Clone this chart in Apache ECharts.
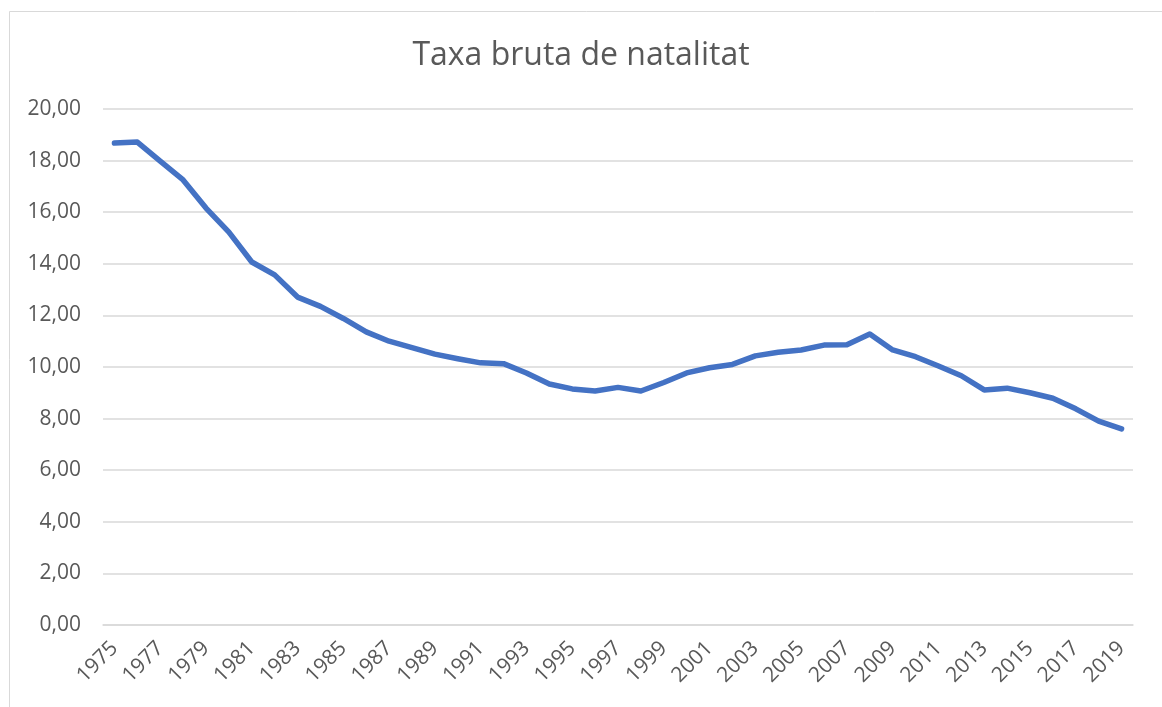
<!DOCTYPE html>
<html>
<head>
<meta charset="utf-8">
<script src="https://cdn.jsdelivr.net/npm/echarts@6/dist/echarts.min.js"></script>
<style>
  html, body { margin: 0; padding: 0; background: #fff; }
  #chart { width: 1162px; height: 707px; }
</style>
</head>
<body>
<div id="chart"></div>
<script>
const years = []
for (let y = 1975; y <= 2019; y++) years.push(String(y))

// taxa bruta de natalitat (per mil habitants), llegida del gràfic
const rates = [
  18.68, 18.72, 17.98, 17.25, 16.16, 15.23, 14.07, 13.57, 12.71, 12.35,
  11.88, 11.36, 11.00, 10.75, 10.50, 10.32, 10.16, 10.13, 9.77, 9.34,
  9.15, 9.07, 9.21, 9.07, 9.40, 9.77, 9.97, 10.10, 10.43, 10.57,
  10.66, 10.85, 10.86, 11.28, 10.66, 10.40, 10.04, 9.66, 9.11, 9.18,
  9.00, 8.79, 8.38, 7.90, 7.60
]

const yTicks = { min: 0, max: 20, interval: 2 }

const chart = echarts.init(document.getElementById('chart'))

const textColor = '#595959'
const font = '"Open Sans", "Liberation Sans", sans-serif'

chart.setOption({
  backgroundColor: '#fff',
  animation: false,
  title: {
    text: 'Taxa bruta de natalitat',
    left: 'center',
    top: 35,
    textStyle: { color: textColor, fontSize: 32, fontWeight: 'normal', fontFamily: font }
  },
  graphic: [{
    type: 'rect',
    shape: { x: 9.5, y: 11.5, width: 2000, height: 2000 },
    style: { fill: 'none', stroke: '#d9d9d9', lineWidth: 1 },
    silent: true
  }],
  grid: { left: 103, right: 29, top: 109, bottom: 82 },
  xAxis: {
    type: 'category',
    data: years,
    boundaryGap: true,
    axisLine: { lineStyle: { color: '#d9d9d9', width: 1.5 } },
    axisTick: { show: false },
    axisLabel: {
      interval: 1,
      rotate: 45,
      margin: 20,
      color: textColor,
      fontSize: 21,
      fontFamily: font
    }
  },
  yAxis: {
    type: 'value',
    min: yTicks.min,
    max: yTicks.max,
    interval: yTicks.interval,
    axisLine: { show: false },
    axisTick: { show: false },
    splitLine: { lineStyle: { color: '#d9d9d9', width: 1.5 } },
    axisLabel: {
      margin: 22,
      color: textColor,
      fontSize: 21,
      fontFamily: font,
      formatter: v => v.toFixed(2).replace('.', ',')
    }
  },
  series: [{
    type: 'line',
    data: rates,
    showSymbol: false,
    lineStyle: { color: '#4472C4', width: 5.5, cap: 'round', join: 'round' },
    itemStyle: { color: '#4472C4' }
  }]
})
</script>
</body>
</html>
